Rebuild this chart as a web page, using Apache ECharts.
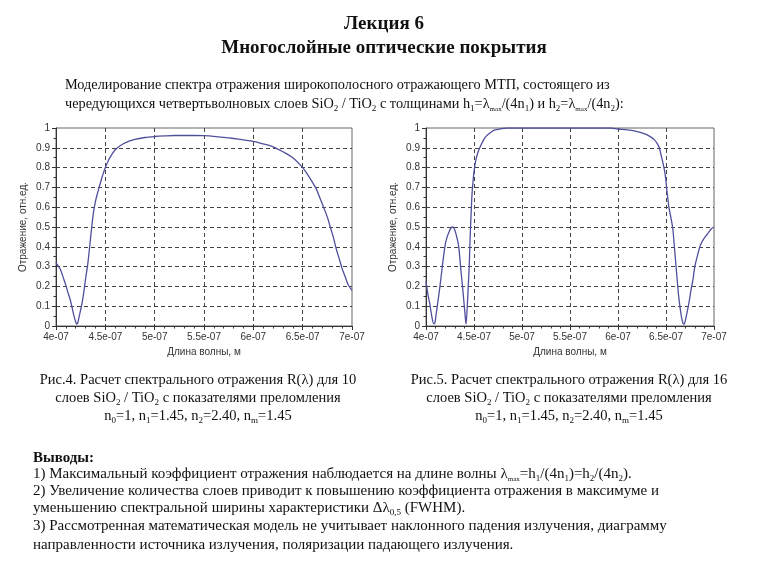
<!DOCTYPE html>
<html><head><meta charset="utf-8">
<script src="https://cdn.jsdelivr.net/npm/echarts/dist/echarts.min.js"></script>
<style>html,body{margin:0;padding:0;background:#fff}#c{width:768px;height:576px}</style>
</head><body><div id="c"></div>
<script>
// ---- data ----
const xTickLabels = ['4e-07','4.5e-07','5e-07','5.5e-07','6e-07','6.5e-07','7e-07'];
const yTickLabels = ['0','0.1','0.2','0.3','0.4','0.5','0.6','0.7','0.8','0.9','1'];

// Fig.4: 10 layers (wavelength in nm, reflectance)
const wl10 = [400,402,404,406,408,410,412,414,416,418,420,421,422,424,426,428,430,432,434,436,438,440,442,444,446,448,450,453,456,460,465,470,480,490,500,510,520,530,540,550,560,570,580,590,600,610,620,630,640,650,655,660,664,668,672,675,678,681,684,687,690,693,696,700];
const r10  = [0.32,0.305,0.29,0.265,0.235,0.205,0.17,0.14,0.10,0.055,0.02,0.01,0.015,0.06,0.105,0.165,0.24,0.305,0.395,0.49,0.575,0.63,0.67,0.705,0.74,0.772,0.80,0.835,0.862,0.89,0.91,0.925,0.942,0.952,0.957,0.96,0.962,0.962,0.962,0.961,0.958,0.953,0.947,0.94,0.933,0.92,0.905,0.88,0.85,0.80,0.765,0.725,0.69,0.64,0.59,0.55,0.50,0.45,0.39,0.34,0.29,0.25,0.21,0.18];

// Fig.5: 16 layers
const wl16 = [400,402,404,406,408,409,410,412,414,416,418,420,422,424,426,428,430,432,434,436,438,440,441,441.7,443,444,445,446,447,448,449,450,452,454,456,460,463,468,472,477,484,500,520,540,560,580,592,600,610,620,628,634,638,641,643,645,647,649,650,651,652,653,655,657,659,661,663,665,667,668.8,670,672,674,676,678,680,683,686,690,694,697,700];
const r16  = [0.225,0.16,0.11,0.05,0.012,0.012,0.04,0.11,0.18,0.26,0.34,0.41,0.45,0.475,0.495,0.5,0.485,0.45,0.405,0.30,0.20,0.095,0.04,0.01,0.10,0.20,0.30,0.45,0.57,0.67,0.73,0.78,0.84,0.875,0.90,0.94,0.96,0.98,0.99,0.995,1.0,1.0,1.0,1.0,1.0,1.0,1.0,0.995,0.99,0.982,0.97,0.955,0.94,0.92,0.90,0.86,0.82,0.77,0.73,0.68,0.64,0.60,0.55,0.495,0.385,0.27,0.16,0.08,0.025,0.008,0.025,0.07,0.12,0.18,0.23,0.30,0.36,0.41,0.445,0.47,0.49,0.5];

// ---- texts ----
const titleLines = ['Лекция 6', 'Многослойные оптические покрытия'];
const introLines = [
  'Моделирование спектра отражения широкополосного отражающего МТП, состоящего из',
  'чередующихся четвертьволновых слоев SiO{s|2} / TiO{s|2} с толщинами h{s|1}=λ{m|max}/(4n{s|1}) и h{s|2}=λ{m|max}/(4n{s|2}):'
];
const cap4 = ['Рис.4. Расчет спектрального отражения R(λ) для 10', 'слоев SiO{s|2} / TiO{s|2} с показателями преломления', 'n{s|0}=1, n{s|1}=1.45, n{s|2}=2.40, n{s|m}=1.45'];
const cap5 = ['Рис.5. Расчет спектрального отражения R(λ) для 16', 'слоев SiO{s|2} / TiO{s|2} с показателями преломления', 'n{s|0}=1, n{s|1}=1.45, n{s|2}=2.40, n{s|m}=1.45'];
const conclHead = 'Выводы:';
const conclLines = [
  '1) Максимальный коэффициент отражения наблюдается на длине волны λ{m|max}=h{s|1}/(4n{s|1})=h{s|2}/(4n{s|2}).',
  '2) Увеличение количества слоев приводит к повышению коэффициента отражения в максимуме и',
  'уменьшению спектральной ширины характеристики Δλ{s|0,5} (FWHM).',
  '3) Рассмотренная математическая модель не учитывает наклонного падения излучения, диаграмму',
  'направленности источника излучения, поляризации падающего излучения.'
];
const xName = 'Длина волны, м';
const yName = 'Отражение, отн.ед.';

// ---- build ----
const SERIF = 'Liberation Serif';
const RICH = {
  s: {fontFamily: SERIF, fontSize: 9, lineHeight: 7, verticalAlign: 'bottom', fill: '#111'},
  m: {fontFamily: SERIF, fontSize: 7, lineHeight: 6, verticalAlign: 'bottom', fill: '#111'}
};
function T(x, y, text, extra) {
  return {type: 'text', x: x, y: y, silent: true,
    style: Object.assign({text: text, fontFamily: SERIF, fontSize: 14, fill: '#111',
      align: 'left', verticalAlign: 'middle', lineHeight: 18, rich: RICH}, extra || {})};
}
const graphics = [];
graphics.push(T(384, 24, titleLines[0], {align: 'center', fontSize: 19, fontWeight: 'bold'}));
graphics.push(T(384, 48, titleLines[1], {align: 'center', fontSize: 19, fontWeight: 'bold'}));
introLines.forEach((t, i) => graphics.push(T(65, 85 + i * 19, t, {fontSize: 14.3})));
const capY = [380, 398, 416];
cap4.forEach((t, i) => graphics.push(T(198, capY[i], t, {align: 'center', fontSize: 14.5})));
cap5.forEach((t, i) => graphics.push(T(569, capY[i], t, {align: 'center', fontSize: 14.5})));
graphics.push(T(33, 458, conclHead, {fontWeight: 'bold', fontSize: 15}));
const conY = [474, 491, 508, 526, 545];
conclLines.forEach((t, i) => graphics.push(T(33, conY[i], t, {fontSize: 15})));

function xFmt(v) { const i = Math.round((v - 400) / 50); return xTickLabels[i] !== undefined ? xTickLabels[i] : ''; }
function yFmt(v) { const i = Math.round(v * 10); return yTickLabels[i] !== undefined ? yTickLabels[i] : ''; }

const SANS = 'Liberation Sans';
const AX = '#333';
function xAxis(g) {
  return {type: 'value', gridIndex: g, min: 400, max: 700, interval: 50,
    axisLine: {show: true, onZero: false, lineStyle: {color: AX}},
    axisTick: {show: true, length: 4, lineStyle: {color: AX}},
    minorTick: {show: true, splitNumber: 5, length: 2.5, lineStyle: {color: AX}},
    axisLabel: {formatter: xFmt, fontFamily: SANS, fontSize: 10, color: '#333', margin: 6},
    splitLine: {show: true, showMinLine: false, showMaxLine: false, lineStyle: {color: '#444', type: [4, 3], width: 1}},
    name: xName, nameLocation: 'middle', nameGap: 21,
    nameTextStyle: {fontFamily: SANS, fontSize: 10, color: '#333'}};
}
function yAxis(g) {
  return {type: 'value', gridIndex: g, min: 0, max: 1, interval: 0.1,
    axisLine: {show: true, onZero: false, lineStyle: {color: AX}},
    axisTick: {show: true, length: 4, lineStyle: {color: AX}},
    minorTick: {show: true, splitNumber: 2, length: 2.5, lineStyle: {color: AX}},
    axisLabel: {formatter: yFmt, fontFamily: SANS, fontSize: 10, color: '#333', margin: 6},
    splitLine: {show: true, showMinLine: false, showMaxLine: false, lineStyle: {color: '#444', type: [4, 3], width: 1}},
    name: yName, nameLocation: 'middle', nameGap: 28,
    nameTextStyle: {fontFamily: SANS, fontSize: 10, color: '#333'}};
}
function zip(a, b) { return a.map((v, i) => [v, b[i]]); }
const LINE = '#4f4f9c';
const chart = echarts.init(document.getElementById('c'), null, {renderer: 'canvas'});
chart.setOption({
  animation: false,
  backgroundColor: '#fff',
  grid: [
    {left: 56, top: 128, width: 296, height: 198, show: true, borderColor: '#666', borderWidth: 1, backgroundColor: '#fff'},
    {left: 426, top: 128, width: 288, height: 198, show: true, borderColor: '#666', borderWidth: 1, backgroundColor: '#fff'}
  ],
  xAxis: [xAxis(0), xAxis(1)],
  yAxis: [yAxis(0), yAxis(1)],
  series: [
    {type: 'line', xAxisIndex: 0, yAxisIndex: 0, data: zip(wl10, r10), showSymbol: false, smooth: 0.3,
      lineStyle: {color: LINE, width: 1.3}},
    {type: 'line', xAxisIndex: 1, yAxisIndex: 1, data: zip(wl16, r16), showSymbol: false, smooth: 0.3,
      lineStyle: {color: LINE, width: 1.3}}
  ],
  graphic: graphics
});
</script></body></html>
